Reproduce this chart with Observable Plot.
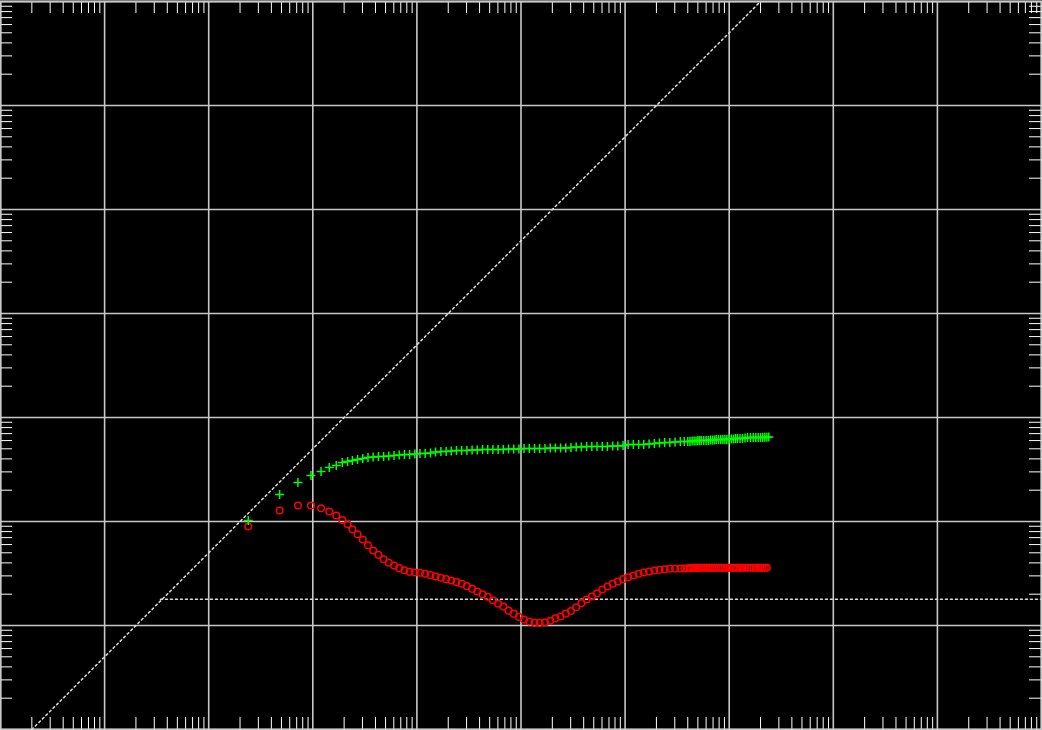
<!DOCTYPE html>
<html><head><meta charset="utf-8">
<script src="https://cdn.jsdelivr.net/npm/d3@7"></script>
<script src="https://cdn.jsdelivr.net/npm/@observablehq/plot@0.6"></script>
<style>html,body{margin:0;padding:0;background:#000;} #chart svg{display:block}</style>
</head><body><div id="chart"></div>
<script>
// elapsed time (shared x for both series)
const time = [0.24, 0.48, 0.72, 0.96, 1.2, 1.44, 1.68, 1.92, 2.16,
  2.4, 2.69, 3.02, 3.39, 3.8, 4.27, 4.79, 5.37, 6.03, 6.76, 7.59, 8.51, 9.55, 10.7, 12.0, 13.5, 15.1, 17.0, 19.1, 21.4,
  24.0, 26.9, 30.2, 33.9, 38.0, 42.7, 47.9, 53.7, 60.3, 67.6, 75.9, 85.1, 95.5, 107, 120, 135, 151, 170, 191, 214,
  240, 269, 302, 339, 380, 427, 479, 537, 603, 676, 759, 851, 955, 1070, 1200, 1350, 1510, 1700, 1910, 2140,
  2400, 2690, 3020, 3390,
  3700, 4000, 4200, 4400, 4600, 4800, 5000, 5200, 5400, 5700, 6000, 6300, 6600, 6900, 7200, 7500, 7900, 8300, 8700, 9100,
  9500, 10000, 10500, 11000, 11500, 12000, 12700, 13400, 14200, 15000, 16000, 17000, 18000, 19000, 20000, 21000, 22000, 23000, 24000];

// pressure change (green +)
const pressure = [1.02, 1.82, 2.37, 2.77, 3.03, 3.31, 3.46, 3.69, 3.78,
  3.86, 3.95, 4.04, 4.13, 4.17, 4.22, 4.22, 4.26, 4.31, 4.36, 4.41, 4.41, 4.46, 4.51, 4.51, 4.56, 4.66, 4.71, 4.71, 4.76,
  4.82, 4.82, 4.82, 4.87, 4.87, 4.92, 4.92, 4.92, 4.92, 4.92, 4.98, 4.98, 4.98, 5.03, 5.03, 5.03, 5.03, 5.03, 5.09, 5.09,
  5.09, 5.09, 5.15, 5.20, 5.20, 5.26, 5.26, 5.26, 5.26, 5.26, 5.32, 5.32, 5.38, 5.50, 5.50, 5.50, 5.50, 5.56, 5.62, 5.69,
  5.75, 5.75, 5.81, 5.88,
  5.88, 5.88, 5.88, 5.95, 5.95, 5.95, 6.01, 6.01, 6.01, 6.01, 6.01, 6.01, 6.08, 6.08, 6.08, 6.15, 6.15, 6.15, 6.15,
  6.15, 6.15, 6.21, 6.21, 6.21, 6.28, 6.28, 6.28, 6.28, 6.35, 6.42, 6.42, 6.42, 6.42, 6.42, 6.42, 6.42, 6.46, 6.46, 6.50];

// pressure derivative (red o)
const derivative = [0.895, 1.276, 1.425, 1.425, 1.342, 1.248, 1.142, 1.034, 0.942,
  0.843, 0.755, 0.671, 0.592, 0.526, 0.478, 0.434, 0.401, 0.378, 0.356, 0.340, 0.328, 0.323, 0.321, 0.314, 0.305, 0.296, 0.288, 0.279, 0.271,
  0.261, 0.252, 0.239, 0.225, 0.212, 0.200, 0.189, 0.175, 0.162, 0.152, 0.139, 0.130, 0.121, 0.114, 0.109, 0.106, 0.106, 0.107, 0.111, 0.117,
  0.122, 0.130, 0.138, 0.150, 0.164, 0.178, 0.190, 0.204, 0.222, 0.237, 0.252, 0.265, 0.279, 0.291, 0.303, 0.314, 0.323, 0.331, 0.338, 0.343,
  0.348, 0.351, 0.351, 0.353,
  0.353, 0.355, 0.356, 0.357, 0.358, 0.358, 0.359, 0.359, 0.359, 0.359, 0.359, 0.359, 0.359, 0.359, 0.359, 0.359, 0.359, 0.359, 0.359,
  0.359, 0.359, 0.359, 0.359, 0.359, 0.359, 0.359, 0.359, 0.359, 0.359, 0.359, 0.359, 0.359, 0.359, 0.359, 0.359, 0.359, 0.359, 0.359];

// reference lines
const unitSlopeX = [0.002, 20000];
const unitSlopeY = [0.01, 100000];
const halfLineX = [0.0344, 1e7];
const halfLineY = [0.179, 0.179];

const xDomain = [1e-3, 1e7];
const yDomain = [1e-2, 1e5];

const rows = time.map((t, i) => ({t, p: pressure[i], d: derivative[i]}));
const slopeRows = unitSlopeX.map((x, i) => ({x, y: unitSlopeY[i]}));
const halfRows = halfLineX.map((x, i) => ({x, y: halfLineY[i]}));

const xAll = d3.scaleLog().domain(xDomain).ticks(40);
const yAll = d3.scaleLog().domain(yDomain).ticks(40);
const isDecade = v => Math.abs(Math.log10(v) - Math.round(Math.log10(v))) < 1e-9;
const xMajor = xAll.filter(isDecade), xMinor = xAll.filter(v => !isDecade(v));
const yMajor = yAll.filter(isDecade), yMinor = yAll.filter(v => !isDecade(v));

const W = 1042, H = 730;
const mL = 0, mR = 1, mT = 1, mB = 1;
const innerW = W - mL - mR, innerH = H - mT - mB;
const tick = 12;
const gridColor = "#c8c8c8";

const chart = Plot.plot({
  width: W, height: H,
  marginLeft: mL, marginRight: mR, marginTop: mT, marginBottom: mB,
  style: {background: "#000"},
  x: {type: "log", domain: xDomain, axis: null},
  y: {type: "log", domain: yDomain, axis: null},
  marks: [
    Plot.ruleX(xMajor, {stroke: gridColor, strokeWidth: 1.6}),
    Plot.ruleY(yMajor, {stroke: gridColor, strokeWidth: 1.6}),
    Plot.ruleX(xMinor, {stroke: "#fff", strokeWidth: 1, insetBottom: innerH - tick}),
    Plot.ruleX(xMinor, {stroke: "#fff", strokeWidth: 1, insetTop: innerH - tick}),
    Plot.ruleY(yMinor, {stroke: "#fff", strokeWidth: 1, insetRight: innerW - tick}),
    Plot.ruleY(yMinor, {stroke: "#fff", strokeWidth: 1, insetLeft: innerW - tick}),
    Plot.line(slopeRows, {x: "x", y: "y", stroke: "#dddddd", strokeWidth: 1.5, strokeDasharray: "2,3", clip: true}),
    Plot.line(halfRows, {x: "x", y: "y", stroke: "#dddddd", strokeWidth: 1.5, strokeDasharray: "2,3", clip: true}),
    Plot.dot(rows, {x: "t", y: "d", r: 3.3, stroke: "#ff0000", strokeWidth: 1.5, fill: "none"}),
    Plot.dot(rows, {x: "t", y: "p", symbol: "plus", r: 3, stroke: "#00ff00", strokeWidth: 1.5}),
    Plot.frame({stroke: gridColor, strokeWidth: 2})
  ]
});
document.getElementById("chart").appendChild(chart);
</script>
</body></html>
